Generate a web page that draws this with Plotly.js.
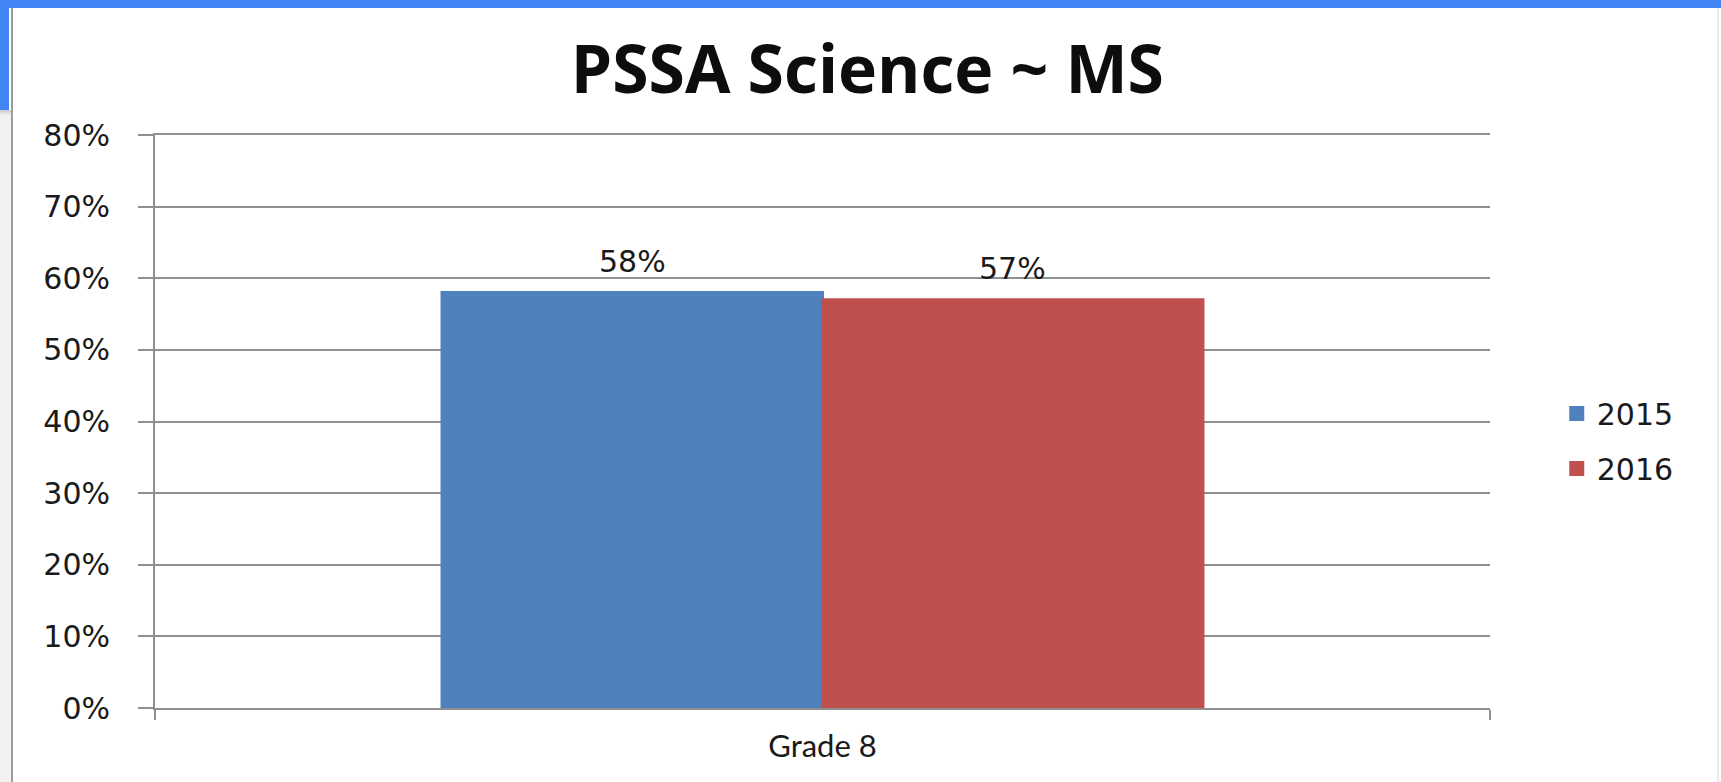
<!DOCTYPE html>
<html>
<head>
<meta charset="utf-8">
<script src="https://cdn.plot.ly/plotly-3.0.1.min.js"></script>
<style>
  html, body { margin: 0; padding: 0; background: #ffffff; }
  #wrap { position: relative; width: 1721px; height: 782px; overflow: hidden; }
  #chart { position: absolute; left: 0; top: 0; width: 1721px; height: 782px; }
  .deco { position: absolute; pointer-events: none; }
</style>
</head>
<body>
<div id="wrap">
  <div id="chart"></div>
  <div class="deco" style="left:0;top:110px;width:11px;height:672px;background:#f1f1f1;"></div>
  <div class="deco" style="left:0;top:110px;width:11px;height:5px;background:linear-gradient(#c8c8c8,#f1f1f1);"></div>
  <div class="deco" style="left:11px;top:8px;width:2px;height:774px;background:#9c9c9c;"></div>
  <div class="deco" style="left:1717px;top:8px;width:2px;height:774px;background:#ececec;"></div>
  <div class="deco" style="left:0;top:0;width:1721px;height:8px;background:#4285F4;"></div>
  <div class="deco" style="left:0;top:0;width:9px;height:110px;background:#4285F4;"></div>
</div>
<script>
// ---- data ----
const categories = ['Grade 8'];
const seriesNames = ['2015', '2016'];
const values2015 = [0.58];
const values2016 = [0.57];
const seriesColors = ['#4F81BD', '#C0504D'];
const chartTitle = 'PSSA Science ~ MS';

const seriesValues = [values2015, values2016];
const BARGAP = 0.43;
const GRID = '#8f8f8f';
const TXT = '#1a1a1a';

const traces = seriesNames.map((name, i) => ({
  type: 'bar',
  name: name,
  x: categories,
  y: seriesValues[i],
  marker: { color: seriesColors[i], line: { color: seriesColors[i], width: 3 } },
  legendgroup: name,
  hoverinfo: 'skip'
}));

// value labels, placed through the axis scales above each bar
const groupWidth = 1 - BARGAP;
const barWidth = groupWidth / seriesNames.length;
const annotations = [];
seriesValues.forEach((vals, i) => {
  vals.forEach((v, c) => {
    annotations.push({
      xref: 'x', yref: 'y',
      x: c - groupWidth / 2 + barWidth * (i + 0.5),
      y: v,
      text: Math.round(v * 100) + '%',
      showarrow: false,
      yanchor: 'bottom',
      yshift: 12,
      font: { family: 'DejaVu Sans', size: 30, color: TXT }
    });
  });
});

const layout = {
  width: 1721,
  height: 782,
  margin: { l: 155, r: 231, t: 135, b: 74, pad: 0 },
  paper_bgcolor: '#ffffff',
  plot_bgcolor: '#ffffff',
  barmode: 'group',
  bargap: BARGAP,
  bargroupgap: 0,
  title: {
    text: '<b>' + chartTitle + '</b>',
    font: { family: 'Open Sans', size: 66, color: '#0d0d0d' },
    x: 0.504, xanchor: 'center',
    y: 0.91, yanchor: 'middle', yref: 'container'
  },
  xaxis: {
    type: 'category',
    showline: true, linecolor: GRID, linewidth: 2, mirror: true,
    ticks: 'outside', tickson: 'boundaries', ticklen: 10, tickwidth: 2, tickcolor: GRID,
    showgrid: false, zeroline: false,
    ticklabelstandoff: 10,
    tickfont: { family: 'Lato', size: 31, color: TXT },
    fixedrange: true
  },
  yaxis: {
    range: [0, 0.8],
    dtick: 0.1,
    tick0: 0,
    tickformat: '.0%',
    showline: true, linecolor: GRID, linewidth: 2,
    ticks: 'outside', ticklen: 15, tickwidth: 2, tickcolor: GRID,
    showgrid: true, gridcolor: GRID, gridwidth: 2,
    zeroline: false,
    ticklabelstandoff: 22,
    tickfont: { family: 'DejaVu Sans', size: 30, color: TXT },
    fixedrange: true
  },
  legend: {
    x: 1.05, xanchor: 'left',
    y: 0.466, yanchor: 'middle',
    font: { family: 'DejaVu Sans', size: 30, color: TXT },
    tracegroupgap: 13,
    itemwidth: 30,
    bgcolor: 'rgba(0,0,0,0)'
  },
  annotations: annotations,
  showlegend: true
};

Plotly.newPlot('chart', traces, layout, { displayModeBar: false, staticPlot: true });
</script>
</body>
</html>
